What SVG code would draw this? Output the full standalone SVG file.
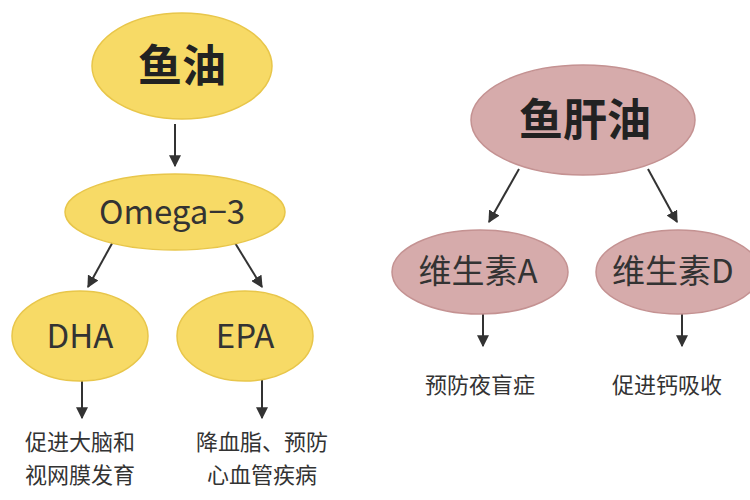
<svg xmlns="http://www.w3.org/2000/svg" width="750" height="500" viewBox="0 0 750 500">
<style>
.y{fill:#F7DA66;stroke:#E8C64A;stroke-width:1.5}
.p{fill:#D6ABAB;stroke:#C49292;stroke-width:1.5}
text{font-family:"Noto Sans CJK SC","Noto Sans",sans-serif;fill:#222;text-anchor:middle}
.t{font-size:44px;font-weight:bold}
.n{font-size:33px;fill:#333}
.s{font-size:22px;fill:#333}
.c line{stroke:#333;stroke-width:2;marker-end:url(#a)}
</style>
<defs><marker id="a" viewBox="0 0 10 10" refX="9" refY="5" markerWidth="6" markerHeight="6" orient="auto"><path d="M0,0L10,5L0,10z" fill="#333"/></marker></defs>
<rect width="750" height="500" fill="#fff"/>
<g class="c">
<line x1="175" y1="124" x2="175" y2="166"/>
<line x1="115" y1="238" x2="88" y2="287"/>
<line x1="232" y1="238" x2="262" y2="287"/>
<line x1="82" y1="378" x2="82" y2="418"/>
<line x1="262" y1="378" x2="262" y2="418"/>
<line x1="519" y1="169" x2="489" y2="222"/>
<line x1="648" y1="169" x2="677" y2="222"/>
<line x1="483" y1="310" x2="483" y2="346"/>
<line x1="682" y1="310" x2="682" y2="346"/>
</g>
<g id="fish"><ellipse class="y" cx="182" cy="66" rx="90" ry="53"/><text class="t" x="182" y="82">鱼油</text></g>
<g id="omega"><ellipse class="y" cx="175" cy="212" rx="110" ry="38"/><text class="n" x="172" y="224">Omega−3</text></g>
<g id="dha"><ellipse class="y" cx="80" cy="336" rx="68" ry="45"/><text class="n" x="80" y="348">DHA</text></g>
<g id="epa"><ellipse class="y" cx="245" cy="336" rx="68" ry="45"/><text class="n" x="245" y="348">EPA</text></g>
<g id="dhaT"><text class="s" x="80" y="450">促进大脑和</text><text class="s" x="80" y="483">视网膜发育</text></g>
<g id="epaT"><text class="s" x="262" y="450">降血脂、预防</text><text class="s" x="262" y="483">心血管疾病</text></g>
<g id="liver"><ellipse class="p" cx="583" cy="120" rx="112" ry="55"/><text class="t" x="585" y="136">鱼肝油</text></g>
<g id="va"><ellipse class="p" cx="480" cy="272" rx="88" ry="42"/><text class="n" x="478" y="283">维生素A</text></g>
<g id="vd"><ellipse class="p" cx="678" cy="272" rx="82" ry="42"/><text class="n" x="612" y="283" style="text-anchor:start">维生素D</text></g>
<g id="vaT"><text class="s" x="480" y="393">预防夜盲症</text></g>
<g id="vdT"><text class="s" x="612" y="393" style="text-anchor:start">促进钙吸收</text></g>
</svg>
